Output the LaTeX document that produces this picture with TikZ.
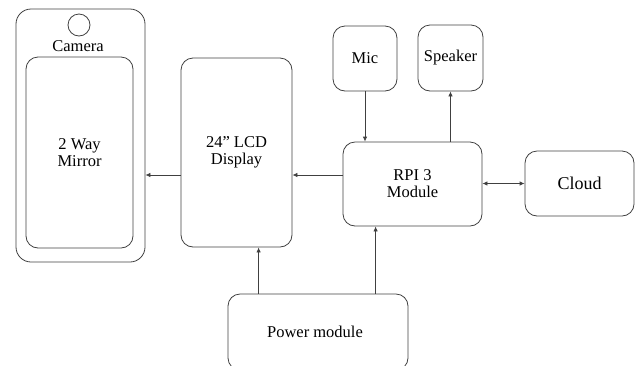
\documentclass[tikz,border=0pt]{standalone}
\usepackage{fontspec}
\setmainfont{Liberation Serif}
\usetikzlibrary{arrows.meta,calc}
\begin{document}
\begin{tikzpicture}[x=1pt,y=-1pt,
  box/.style={draw=black!75,line width=0.8pt,rounded corners=12pt,inner sep=0pt,align=center,
    font=\fontsize{16.5}{17}\selectfont},
  arr/.style={draw=black!75,line width=0.8pt,-{Latex[length=5pt,width=4.5pt]}},
  arrb/.style={draw=black!75,line width=0.8pt,{Latex[length=5pt,width=4.5pt]}-{Latex[length=5pt,width=4.5pt]}}]
\clip (0,0) rectangle (636,365);
\useasboundingbox (0,0) rectangle (636,365);
\node[box,rounded corners=15pt,minimum width=129pt,minimum height=253pt] (frame) at (80.5,135.5) {};
\node[draw=black!75,line width=0.8pt,circle,minimum size=22pt,inner sep=0pt] (cam) at (79,25) {};
\node[font=\fontsize{16.5}{17}\selectfont,inner sep=0pt] (camtxt) at (78,46) {Camera};
\node[box,minimum width=107pt,minimum height=191pt] (mirror) at (79.5,152.5) {2 Way\\Mirror};
\node[box,minimum width=111pt,minimum height=189pt] (lcd) at (236.5,152.5) {24{"} LCD\\Display};
\node[box,minimum width=139pt,minimum height=84pt] (rpi) at (412.5,184) {RPI 3\\Module};
\node[box,minimum width=64pt,minimum height=65pt] (mic) at (365,58.5) {Mic};
\node[box,minimum width=65pt,minimum height=66pt] (spk) at (450.5,58) {Speaker};
\node[box,minimum width=109pt,minimum height=65pt,font=\fontsize{18}{20}\selectfont] (cloud) at (579.5,183.5) {Cloud};
\node[box,minimum width=180pt,minimum height=76pt] (pw) at (318,332) {};
\node[font=\fontsize{16.5}{17}\selectfont,inner sep=0pt] (pwtxt) at (315,332) {Power module};
\coordinate (a) at ([yshift=9pt]rpi.west);
\draw[arr] (a) -- (a -| lcd.east);
\draw[arr] (a -| lcd.west) -- (a -| frame.east);
\draw[arr] (mic.south) -- (mic.south |- rpi.north);
\draw[arr] (spk.south |- rpi.north) -- (spk.south);
\draw[arrb] (rpi.east |- cloud.west) -- (cloud.west);
\coordinate (p1) at ([xshift=31pt]pw.north west);
\coordinate (p2) at ([xshift=148pt]pw.north west);
\draw[arr] (p1) -- (p1 |- lcd.south);
\draw[arr] (p2) -- (p2 |- rpi.south);
\end{tikzpicture}
\end{document}
